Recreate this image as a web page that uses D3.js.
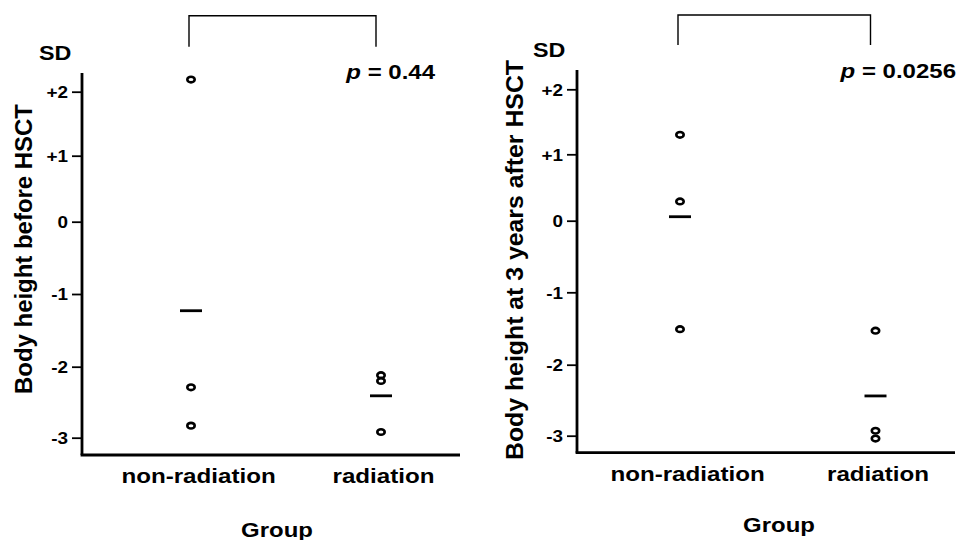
<!DOCTYPE html>
<html>
<head>
<meta charset="utf-8">
<script src="https://cdn.jsdelivr.net/npm/d3@7"></script>
<style>
  html, body { margin: 0; padding: 0; background: #fff; }
  svg { display: block; }
  text { font-family: "Liberation Sans", Arial, sans-serif; font-weight: bold; fill: #000; }
</style>
</head>
<body>
<svg id="chart"></svg>
<script>
// values (SD scores)
var groups = ["non-radiation", "radiation"];
var yTicks = [-3, -2, -1, 0, 1, 2];

var beforeNonRad = [2.19, -2.29, -2.83];
var beforeRad = [-2.12, -2.20, -2.92];
var beforeMeans = [-1.23, -2.41];

var afterNonRad = [1.30, 0.29, -1.51];
var afterRad = [-1.53, -2.93, -3.04];
var afterMeans = [0.06, -2.44];

var pValues = ["0.44", "0.0256"];
var yTitles = ["Body height before HSCT", "Body height at 3 years after HSCT"];

var svgWidth = 957, svgHeight = 540;

var svg = d3.select('#chart')
  .attr('width', svgWidth)
  .attr('height', svgHeight);

// the source figure is a bit stretched sideways, widen text to match
function widen(sel, k) {
  sel.each(function() {
    var w = this.getComputedTextLength();
    d3.select(this).attr('textLength', w * k).attr('lengthAdjust', 'spacingAndGlyphs');
  });
}

var panels = [
  {
    title: yTitles[0], nonRad: beforeNonRad, rad: beforeRad, means: beforeMeans, p: pValues[0],
    ax: 82, axTop: 73, axBottom: 455, xEnd: 460,
    xr: [191, 381], yr: [437.7, 366.7, 294, 221.7, 155.7, 91.7],
    titleX: 32, titleY: 249, titleLen: 290,
    sdX: 39, sdY: 60, pX: 435, pY: 79, brTop: 15.7, brBottom: 46.7,
    groupX: 277, groupY: 536.5
  },
  {
    title: yTitles[1], nonRad: afterNonRad, rad: afterRad, means: afterMeans, p: pValues[1],
    ax: 577, axTop: 70, axBottom: 452.7, xEnd: 955,
    xr: [680, 875.5], yr: [435.7, 364.7, 292.3, 220.7, 154.3, 89.3],
    titleX: 523, titleY: 260, titleLen: 400,
    sdX: 533, sdY: 57, pX: 956, pY: 78.3, brTop: 15, brBottom: 45,
    groupX: 779, groupY: 531.7
  }
];

panels.forEach(function(pn) {
  var g = svg.append('g');

  var xScale = d3.scalePoint().domain(groups).range(pn.xr);
  // tick spacing in the figure is uneven, so map each tick to its place
  var yScale = d3.scaleLinear().domain(yTicks).range(pn.yr);

  // y axis
  var yAxis = d3.axisLeft(yScale)
    .tickValues(yTicks)
    .tickSize(10)
    .tickPadding(4)
    .tickFormat(function(d) { return d > 0 ? '+' + d : String(d); });

  var ya = g.append('g')
    .attr('transform', 'translate(' + pn.ax + ',0)')
    .call(yAxis);
  ya.select('.domain').remove();
  ya.selectAll('.tick line').attr('stroke', '#000').attr('stroke-width', 1.8);
  ya.selectAll('.tick text')
    .style('font-size', '16px')
    .attr('dy', '0.36em');
  widen(ya.selectAll('.tick text'), 1.18);

  g.append('line')
    .attr('x1', pn.ax).attr('x2', pn.ax)
    .attr('y1', pn.axTop).attr('y2', pn.axBottom)
    .attr('stroke', '#000').attr('stroke-width', 2.8);

  // x axis
  var xAxis = d3.axisBottom(xScale).tickSize(0).tickPadding(13);
  var xa = g.append('g')
    .attr('transform', 'translate(0,' + pn.axBottom + ')')
    .call(xAxis);
  xa.select('.domain').remove();
  xa.selectAll('.tick text').style('font-size', '21px').attr('dx', function(d, i) { return i === 0 ? 7 : 2; });
  widen(xa.selectAll('.tick text'), 1.15);

  g.append('line')
    .attr('x1', pn.ax - 1.4).attr('x2', pn.xEnd)
    .attr('y1', pn.axBottom).attr('y2', pn.axBottom)
    .attr('stroke', '#000').attr('stroke-width', 2.8);

  // axis titles
  g.append('text')
    .attr('transform', 'translate(' + pn.titleX + ',' + pn.titleY + ') rotate(-90)')
    .attr('text-anchor', 'middle')
    .attr('textLength', pn.titleLen)
    .attr('lengthAdjust', 'spacingAndGlyphs')
    .style('font-size', '23px')
    .text(pn.title);

  g.append('text')
    .attr('transform', 'translate(' + pn.sdX + ',' + pn.sdY + ') scale(1.11,1)')
    .style('font-size', '21px')
    .text('SD');

  g.append('text')
    .attr('transform', 'translate(' + pn.groupX + ',' + pn.groupY + ') scale(1.14,1)')
    .attr('text-anchor', 'middle')
    .style('font-size', '21px')
    .text('Group');

  // p value + bracket
  var pt = g.append('text')
    .attr('transform', 'translate(' + pn.pX + ',' + pn.pY + ') scale(1.2,1)')
    .attr('text-anchor', 'end')
    .style('font-size', '20px');
  pt.append('tspan').style('font-style', 'italic').text('p');
  pt.append('tspan').text(' = ' + pn.p);

  var bx0 = xScale(groups[0]) - 2, bx1 = xScale(groups[1]) - 5;
  g.append('path')
    .attr('d', 'M' + bx0 + ',' + pn.brBottom + 'V' + pn.brTop + 'H' + bx1 + 'V' + pn.brBottom)
    .attr('fill', 'none')
    .attr('stroke', '#000')
    .attr('stroke-width', 1.4);

  // individual points
  var pts = pn.nonRad.map(function(v) { return { g: groups[0], v: v }; })
    .concat(pn.rad.map(function(v) { return { g: groups[1], v: v }; }));

  g.selectAll('ellipse')
    .data(pts)
    .enter()
    .append('ellipse')
    .attr('cx', function(d) { return xScale(d.g); })
    .attr('cy', function(d) { return yScale(d.v); })
    .attr('rx', 3.7)
    .attr('ry', 2.8)
    .attr('fill', 'none')
    .attr('stroke', '#000')
    .attr('stroke-width', 2.6);

  // group means
  g.selectAll('line.mean')
    .data(pn.means)
    .enter()
    .append('line')
    .attr('class', 'mean')
    .attr('x1', function(d, i) { return xScale(groups[i]) - 11; })
    .attr('x2', function(d, i) { return xScale(groups[i]) + 11; })
    .attr('y1', function(d) { return yScale(d); })
    .attr('y2', function(d) { return yScale(d); })
    .attr('stroke', '#000')
    .attr('stroke-width', 2.8);
});
</script>
</body>
</html>
